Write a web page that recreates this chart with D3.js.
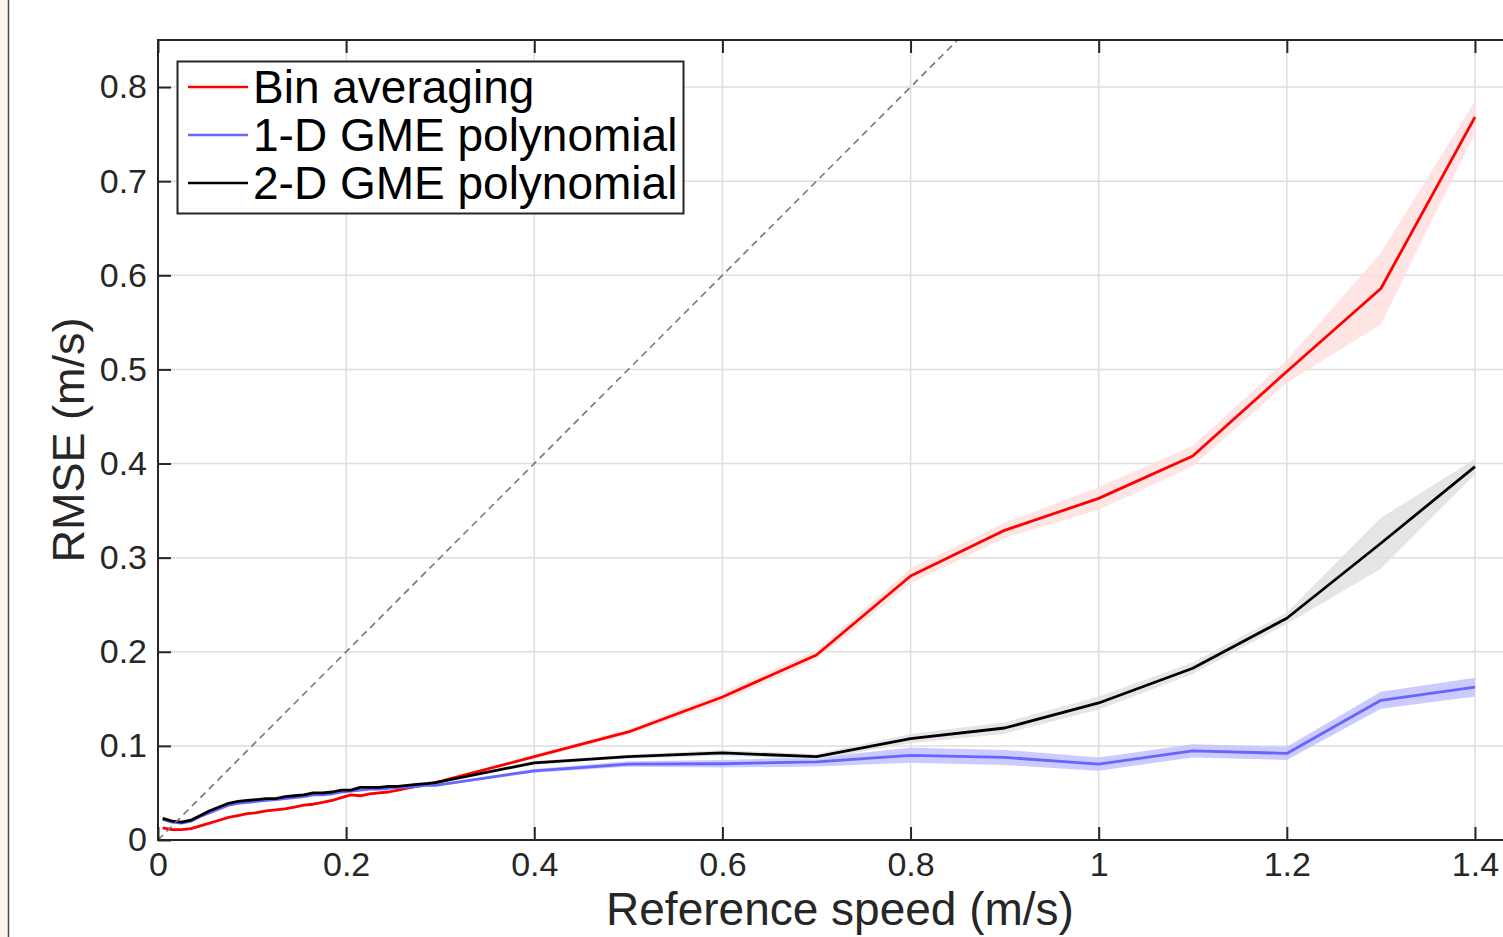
<!DOCTYPE html>
<html>
<head>
<meta charset="utf-8">
<script src="https://cdn.jsdelivr.net/npm/d3@7"></script>
<style>
  html, body { margin: 0; padding: 0; background: #fff; }
  svg { display: block; font-family: 'Liberation Sans', Arial, Helvetica, sans-serif; }
</style>
</head>
<body>
<div id="chart"></div>
<script>
// reference speed (m/s): dense bins below 0.3, then every 0.1
const speeds = [
  0.005, 0.015, 0.025, 0.035, 0.045, 0.055, 0.065, 0.075, 0.085, 0.095,
  0.105, 0.115, 0.125, 0.135, 0.145, 0.155, 0.165, 0.175, 0.185, 0.195,
  0.205, 0.215, 0.225, 0.235, 0.245, 0.255, 0.265, 0.275, 0.285, 0.295,
  0.4, 0.5, 0.6, 0.7, 0.8, 0.9, 1.0, 1.1, 1.2, 1.3, 1.4
];

// RMSE (m/s)
const binAvg = [
  0.013, 0.011, 0.011, 0.012, 0.015, 0.018, 0.021, 0.024, 0.026, 0.028,
  0.029, 0.031, 0.032, 0.033, 0.035, 0.037, 0.038, 0.040, 0.042, 0.045,
  0.048, 0.047, 0.049, 0.050, 0.051, 0.053, 0.055, 0.057, 0.059, 0.061,
  0.0885, 0.1148, 0.152, 0.1966, 0.2805, 0.329, 0.363, 0.408, 0.4977, 0.586, 0.768
];
const gme1d = [
  0.022, 0.019, 0.018, 0.020, 0.025, 0.029, 0.033, 0.037, 0.039, 0.040,
  0.041, 0.042, 0.043, 0.044, 0.045, 0.046, 0.048, 0.048, 0.049, 0.051,
  0.052, 0.053, 0.054, 0.054, 0.055, 0.056, 0.056, 0.057, 0.058, 0.058,
  0.0735, 0.0807, 0.081, 0.083, 0.090, 0.0877, 0.0807, 0.0947, 0.092, 0.1484, 0.1625
];
const gme2d = [
  0.023, 0.020, 0.019, 0.021, 0.026, 0.031, 0.035, 0.039, 0.041, 0.042,
  0.043, 0.044, 0.044, 0.046, 0.047, 0.048, 0.050, 0.050, 0.051, 0.053,
  0.053, 0.056, 0.056, 0.056, 0.057, 0.057, 0.058, 0.059, 0.060, 0.061,
  0.082, 0.0885, 0.0925, 0.0885, 0.1077, 0.119, 0.1456, 0.1825, 0.2356, 0.3153, 0.3967
];

// half width of the shaded spread around each line
const binAvgSpread = [
  0.001, 0.001, 0.001, 0.001, 0.001, 0.001, 0.001, 0.001, 0.001, 0.001,
  0.001, 0.001, 0.001, 0.001, 0.001, 0.001, 0.001, 0.001, 0.001, 0.001,
  0.001, 0.001, 0.001, 0.001, 0.001, 0.001, 0.001, 0.001, 0.001, 0.001,
  0.002, 0.003, 0.005, 0.005, 0.008, 0.008, 0.012, 0.011, 0.012, 0.038, 0.017
];
const gme1dSpread = [
  0.001, 0.001, 0.001, 0.001, 0.001, 0.001, 0.001, 0.001, 0.001, 0.001,
  0.001, 0.001, 0.001, 0.001, 0.001, 0.001, 0.001, 0.001, 0.001, 0.001,
  0.001, 0.001, 0.001, 0.001, 0.001, 0.001, 0.001, 0.001, 0.001, 0.001,
  0.002, 0.003, 0.004, 0.005, 0.008, 0.008, 0.007, 0.007, 0.007, 0.009, 0.010
];
const gme2dSpread = [
  0.001, 0.001, 0.001, 0.001, 0.001, 0.001, 0.001, 0.001, 0.001, 0.001,
  0.001, 0.001, 0.001, 0.001, 0.001, 0.001, 0.001, 0.001, 0.001, 0.001,
  0.001, 0.001, 0.001, 0.001, 0.001, 0.001, 0.001, 0.001, 0.001, 0.001,
  0.002, 0.002, 0.003, 0.003, 0.005, 0.006, 0.007, 0.006, 0.006, 0.027, 0.008
];

const seriesNames = ['Bin averaging', '1-D GME polynomial', '2-D GME polynomial'];
const xTicks = [0, 0.2, 0.4, 0.6, 0.8, 1, 1.2, 1.4];
const yTicks = [0, 0.1, 0.2, 0.3, 0.4, 0.5, 0.6, 0.7, 0.8];

const width = 1503, height = 937;
const axisColor = '#262626';
const tickLen = 13;

const series = [
  { name: seriesNames[0], values: binAvg, spread: binAvgSpread, line: '#ff0000', band: '#ffdfdf' },
  { name: seriesNames[1], values: gme1d, spread: gme1dSpread, line: '#6666ff', band: '#c2c2ff' },
  { name: seriesNames[2], values: gme2d, spread: gme2dSpread, line: '#000000', band: '#e0e0e0' }
];

const x = d3.scaleLinear().domain([0, 1.45]).range([158, 1522]);
const y = d3.scaleLinear().domain([0, 0.85]).range([840, 40]);

const svg = d3.select('#chart')
  .append('svg')
  .attr('width', width)
  .attr('height', height);

// left page margin strip
svg.append('rect')
  .attr('x', 0).attr('y', 0)
  .attr('width', 8).attr('height', height)
  .style('fill', '#fcf6f0');
svg.append('line')
  .attr('x1', 8.5).attr('x2', 8.5)
  .attr('y1', 0).attr('y2', height)
  .style('stroke', '#4a4a4a')
  .style('stroke-width', 1.5);

const plot = svg.append('g');

// grid
plot.append('g')
  .selectAll('line')
  .data(xTicks.filter(d => d > 0))
  .enter()
  .append('line')
    .attr('x1', d => x(d)).attr('x2', d => x(d))
    .attr('y1', y(0)).attr('y2', y(0.85))
    .style('stroke', '#dedede')
    .style('stroke-width', 1.5);

plot.append('g')
  .selectAll('line')
  .data(yTicks.filter(d => d > 0))
  .enter()
  .append('line')
    .attr('x1', x(0)).attr('x2', x(1.45))
    .attr('y1', d => y(d)).attr('y2', d => y(d))
    .style('stroke', '#dedede')
    .style('stroke-width', 1.5);

// shaded spreads
const area = d3.area()
  .x(d => x(d.s))
  .y0(d => y(d.v - d.e))
  .y1(d => y(d.v + d.e));

const line = d3.line()
  .x(d => x(d.s))
  .y(d => y(d.v));

const points = (srs) => speeds.map((s, i) => ({ s: s, v: srs.values[i], e: srs.spread[i] }));

series.forEach(srs => {
  plot.append('path')
    .datum(points(srs))
    .attr('d', area)
    .style('fill', srs.band)
    .style('fill-opacity', 0.85)
    .style('stroke', 'none');
});

series.forEach(srs => {
  plot.append('path')
    .datum(points(srs))
    .attr('d', line)
    .style('fill', 'none')
    .style('stroke', srs.line)
    .style('stroke-width', 2.8)
    .style('stroke-linejoin', 'round');
});

// identity line
plot.append('line')
  .attr('x1', x(0)).attr('y1', y(0))
  .attr('x2', x(0.85)).attr('y2', y(0.85))
  .style('stroke', '#777')
  .style('stroke-width', 1.6)
  .style('stroke-dasharray', '7,5');

// axes, MATLAB style box with inward ticks
const xBottom = d3.axisBottom(x).tickValues(xTicks).tickSize(-tickLen).tickPadding(12)
  .tickFormat(d3.format('~g'));
const xTop = d3.axisTop(x).tickValues(xTicks).tickSize(-tickLen).tickFormat('');
const yLeft = d3.axisLeft(y).tickValues(yTicks).tickSize(-tickLen).tickPadding(11)
  .tickFormat(d3.format('~g'));

const styleAxis = (g) => {
  g.select('.domain').remove();
  g.selectAll('.tick line').style('stroke', axisColor).style('stroke-width', 2);
  g.selectAll('.tick text')
    .style('fill', axisColor)
    .style('font-size', '34px')
    .style('font-family', "'Liberation Sans', Arial, sans-serif");
};

svg.append('g').attr('transform', `translate(0,${y(0)})`).call(xBottom).call(styleAxis);
svg.append('g').attr('transform', `translate(0,${y(0.85)})`).call(xTop).call(styleAxis);
svg.append('g').attr('transform', `translate(${x(0)},0)`).call(yLeft).call(styleAxis);

svg.append('path')
  .attr('d', `M${x(1.45)},${y(0.85)}H${x(0)}V${y(0)}H${x(1.45)}`)
  .style('fill', 'none')
  .style('stroke', axisColor)
  .style('stroke-width', 2);

// axis titles
svg.append('text')
  .attr('x', 840)
  .attr('y', 925)
  .attr('text-anchor', 'middle')
  .style('font-size', '46px')
  .style('fill', axisColor)
  .text('Reference speed (m/s)');

svg.append('text')
  .attr('transform', `translate(84,${(y(0) + y(0.85)) / 2}) rotate(-90)`)
  .attr('text-anchor', 'middle')
  .style('font-size', '45px')
  .style('fill', axisColor)
  .text('RMSE (m/s)');

// legend
const legend = svg.append('g');
legend.append('rect')
  .attr('x', 177.5).attr('y', 61.5)
  .attr('width', 506).attr('height', 152)
  .style('fill', '#fff')
  .style('stroke', axisColor)
  .style('stroke-width', 2);

const rows = legend.selectAll('.row')
  .data(series)
  .enter()
  .append('g')
    .attr('class', 'row')
    .attr('transform', (d, i) => `translate(0,${87 + i * 48})`);

rows.append('line')
  .attr('x1', 188).attr('x2', 248)
  .attr('y1', 0).attr('y2', 0)
  .style('stroke', d => d.line)
  .style('stroke-width', 2.5);

rows.append('text')
  .attr('x', 253)
  .attr('y', 16)
  .style('font-size', '46px')
  .style('fill', '#000')
  .text(d => d.name);
</script>
</body>
</html>
